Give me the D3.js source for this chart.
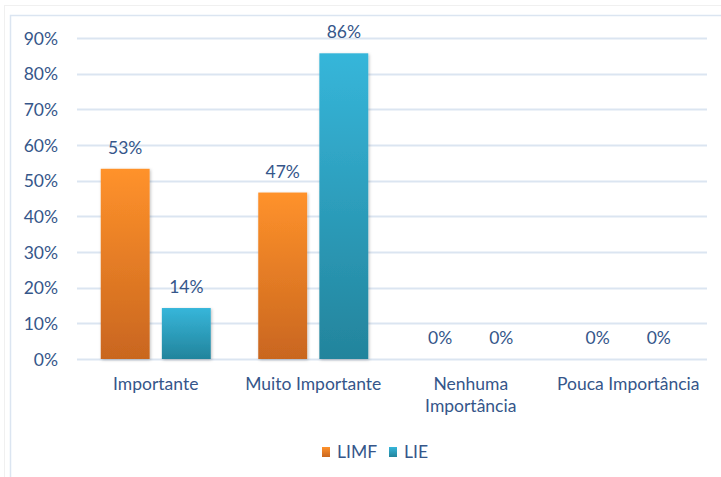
<!DOCTYPE html>
<html><head><meta charset="utf-8">
<script src="https://cdn.jsdelivr.net/npm/d3@7"></script>
<style>
html,body{margin:0;padding:0;background:#fff;}
text{font-family:Lato,"Open Sans",sans-serif;}
</style></head>
<body><svg id="c" width="721" height="477"></svg>
<script>
const categories = ["Importante", "Muito Importante", "Nenhuma Importância", "Pouca Importância"];
const categoryLines = [["Importante"], ["Muito Importante"], ["Nenhuma", "Importância"], ["Pouca Importância"]];
const seriesNames = ["LIMF", "LIE"];
const limf = [53.33, 46.67, 0, 0];
const lie = [14.29, 85.71, 0, 0];
const yTicks = [0, 10, 20, 30, 40, 50, 60, 70, 80, 90];

(function () {
const svg = d3.select("#c");
const textColor = "#35568a";
const gridColor = "#dbe5f1";
const fs = 17.5;

svg.append("rect").attr("x", 4.5).attr("y", 5.5).attr("width", 730).attr("height", 480)
  .attr("fill", "none").attr("stroke", "#f0f0f0").attr("stroke-width", 1);
svg.append("rect").attr("x", 10.5).attr("y", 15.5).attr("width", 730).attr("height", 480)
  .attr("fill", "#fff").attr("stroke", gridColor).attr("stroke-width", 1.5);

const defs = svg.append("defs");
const grads = [["gOrange", "#ff922b", "#c9661f"], ["gBlue", "#36b6da", "#23849c"]];
grads.forEach(([id, c1, c2]) => {
  const g = defs.append("linearGradient").attr("id", id).attr("x1", 0).attr("y1", 0).attr("x2", 0).attr("y2", 1);
  g.append("stop").attr("offset", "0%").attr("stop-color", c1);
  g.append("stop").attr("offset", "100%").attr("stop-color", c2);
});
const f = defs.append("filter").attr("id", "sh").attr("x", "-20%").attr("y", "-5%").attr("width", "140%").attr("height", "115%");
f.append("feDropShadow").attr("dx", 1).attr("dy", 1).attr("stdDeviation", 1.5).attr("flood-color", "#000").attr("flood-opacity", 0.25);

const pl = 77, pr = 707, pt = 38, pb = 359;
const y = d3.scaleLinear().domain([0, 90]).range([pb, pt]);
const x = d3.scaleBand().domain(categories).range([pl, pr]).paddingInner(0).paddingOuter(0);
const xs = d3.scaleBand().domain(seriesNames).range([0, 110]).paddingInner(0.2).paddingOuter(0);
const groupOffset = (x.bandwidth() - 110) / 2;

svg.append("g").selectAll("line").data(yTicks).join("line")
  .attr("x1", pl).attr("x2", pr)
  .attr("y1", d => Math.round(y(d)) + 0.5).attr("y2", d => Math.round(y(d)) + 0.5)
  .attr("stroke", gridColor).attr("stroke-width", 2);

const yAxis = d3.axisLeft(y).tickValues(yTicks).tickFormat(d => d + "%").tickSize(0).tickPadding(0);
const ya = svg.append("g").attr("transform", `translate(58,0)`).call(yAxis);
ya.select(".domain").remove();
ya.selectAll("text").attr("fill", textColor).attr("font-size", fs).attr("font-family", "Lato, sans-serif").attr("dy", "0.35em");

const data = categories.map((c, i) => ({ cat: c, vals: [limf[i], lie[i]] }));
const groups = svg.append("g").selectAll("g").data(data).join("g")
  .attr("transform", d => `translate(${x(d.cat) + groupOffset},0)`);

groups.selectAll("rect").data(d => d.vals.map((v, j) => ({ v, s: seriesNames[j], j }))).join("rect")
  .attr("x", d => xs(d.s)).attr("width", xs.bandwidth())
  .attr("y", d => y(d.v)).attr("height", d => pb - y(d.v))
  .attr("fill", d => d.j === 0 ? "url(#gOrange)" : "url(#gBlue)")
  .attr("filter", "url(#sh)");

groups.selectAll("text.lbl").data(d => d.vals.map((v, j) => ({ v, s: seriesNames[j] }))).join("text")
  .attr("class", "lbl")
  .attr("x", d => xs(d.s) + xs.bandwidth() / 2)
  .attr("y", d => y(d.v) - 15)
  .attr("text-anchor", "middle").attr("fill", textColor).attr("font-size", fs)
  .text(d => Math.round(d.v) + "%");

const xl = svg.append("g").selectAll("text").data(categories.map((c, i) => ({ c, lines: categoryLines[i] }))).join("text")
  .attr("x", d => x(d.c) + x.bandwidth() / 2).attr("y", 390)
  .attr("text-anchor", "middle").attr("fill", textColor).attr("font-size", fs);
xl.selectAll("tspan").data(d => d.lines).join("tspan")
  .attr("x", function () { return d3.select(this.parentNode).attr("x"); })
  .attr("dy", (d, i) => i === 0 ? 0 : 22).text(d => d);

const legend = svg.append("g").attr("transform", "translate(322,447)");
const legX = [0, 67];
seriesNames.forEach((s, i) => {
  const g = legend.append("g").attr("transform", `translate(${legX[i]},0)`);
  g.append("rect").attr("width", 8).attr("height", 10).attr("fill", i === 0 ? "url(#gOrange)" : "url(#gBlue)");
  g.append("text").attr("x", 15).attr("y", 5).attr("dy", "0.35em").attr("fill", textColor).attr("font-size", fs).text(s);
});
})();
</script></body></html>
